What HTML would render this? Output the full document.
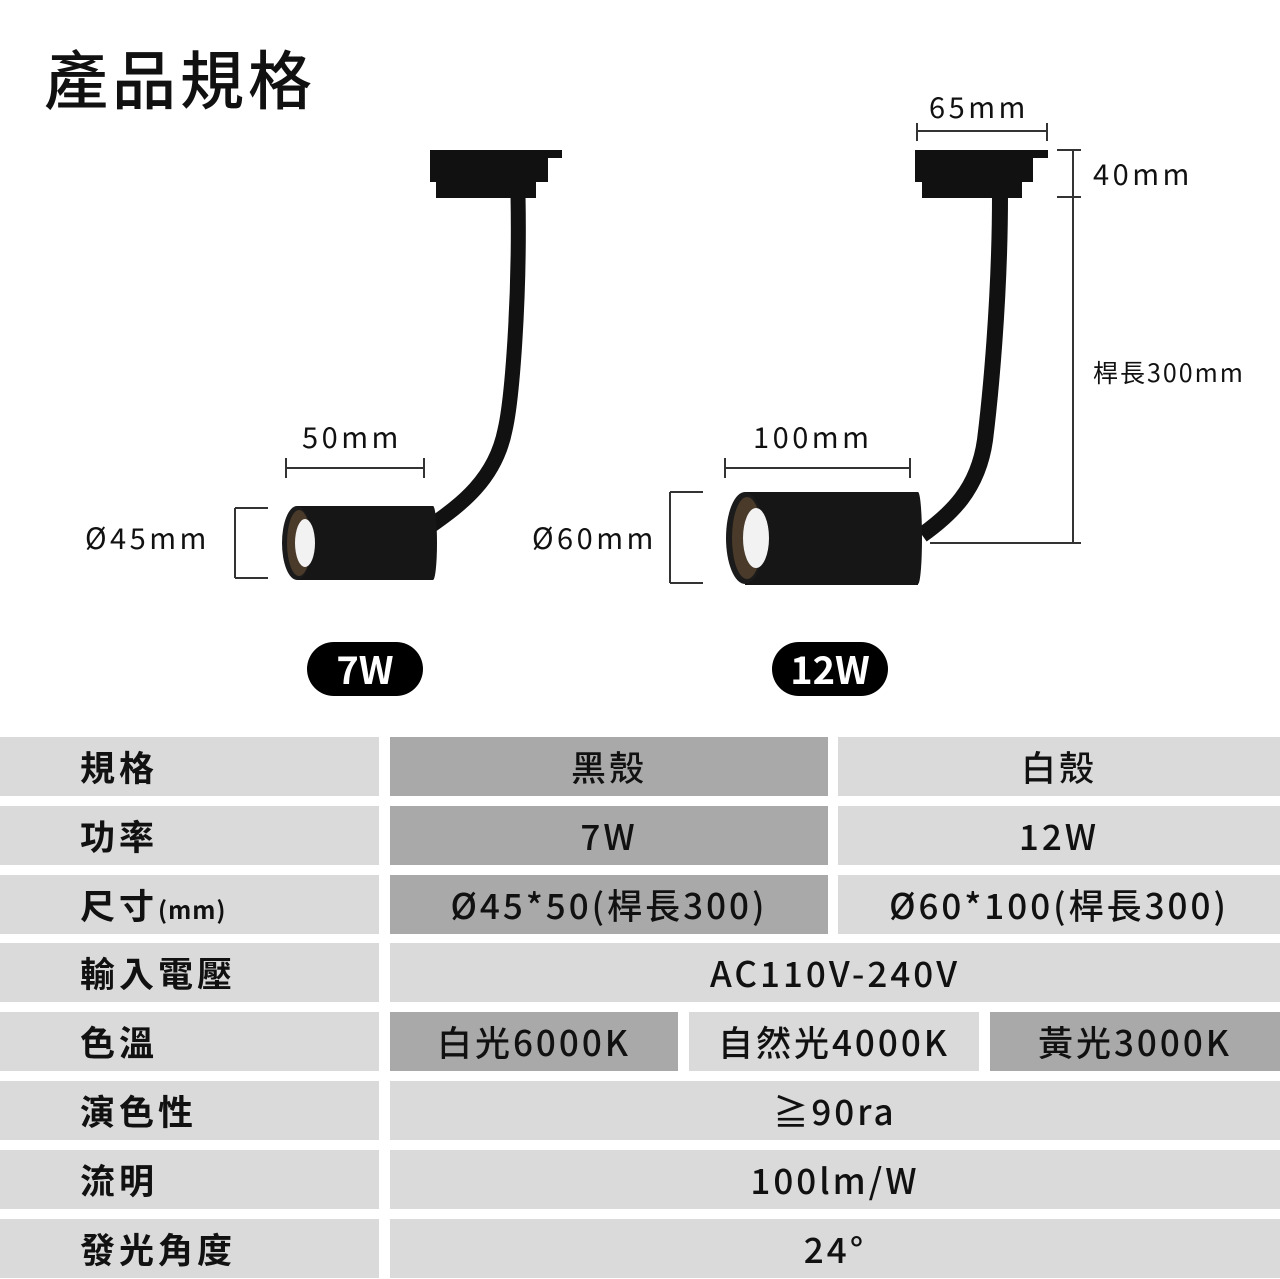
<!DOCTYPE html>
<html><head><meta charset="utf-8"><style>
body{margin:0;width:1280px;height:1279px;background:#fff;position:relative;overflow:hidden;font-family:"Noto Sans CJK TC","Liberation Sans",sans-serif;color:#111}
.c{position:absolute;display:flex;align-items:center;justify-content:center;font-size:35px;font-weight:500;letter-spacing:3px;height:59px}
.l{justify-content:flex-start;padding-left:80px;font-weight:700;box-sizing:border-box;letter-spacing:4px}
.g{background:#dadada}.d{background:#a9a9a9}
</style></head><body>
<svg width="1280" height="720" style="position:absolute;left:0;top:0" font-family="Noto Sans CJK TC, Liberation Sans, sans-serif">
<text x="44" y="104" font-size="64" font-weight="500" fill="#111" letter-spacing="4">產品規格</text>
<g stroke="#333" stroke-width="2" fill="none">
<path d="M286 468H424M286 458V478M424 458V478"/>
<path d="M725 468H910M725 458V478M910 458V478"/>
<path d="M235 508V578M235 508H268M235 578H268"/>
<path d="M670 492V583M670 492H703M670 583H703"/>
<path d="M917 131H1047M917 123V141M1047 123V141"/>
<path d="M1073 150V543M1057 150H1081M1057 197H1081M930 543H1081"/>
</g>
<g font-size="29" fill="#111" letter-spacing="3.5">
<text x="302" y="448">50mm</text>
<text x="753" y="448">100mm</text>
<text x="85" y="549">Ø45mm</text>
<text x="532" y="549">Ø60mm</text>
<text x="929" y="118">65mm</text>
<text x="1093" y="185">40mm</text>
<text x="1093" y="382" font-size="25" letter-spacing="2">桿長300mm</text>
</g>
<!-- 7W lamp -->
<path d="M518 195 C520 300 512 400 505 430 C495 480 460 505 432 525" stroke="#111" stroke-width="15" fill="none"/>
<rect x="430" y="150" width="118" height="32" fill="#111"/><rect x="540" y="150" width="22" height="8" fill="#111"/>
<rect x="436" y="180" width="100" height="18" fill="#111"/>
<rect x="297" y="506" width="136" height="74" fill="#161616"/>
<ellipse cx="433" cy="543" rx="4" ry="37" fill="#161616"/>
<ellipse cx="297" cy="543" rx="15" ry="37" fill="#1b1b1b"/>
<ellipse cx="299" cy="543" rx="12" ry="33" fill="#4a3a2a"/>
<ellipse cx="305" cy="543" rx="10" ry="24" fill="#f2f2f2"/>
<!-- 12W lamp -->
<path d="M1000 195 C1000 300 990 400 985 440 C978 490 950 515 922 535" stroke="#111" stroke-width="16" fill="none"/>
<rect x="915" y="150" width="118" height="32" fill="#111"/><rect x="1025" y="150" width="23" height="8" fill="#111"/>
<rect x="922" y="180" width="100" height="18" fill="#111"/>
<rect x="745" y="492" width="173" height="93" fill="#161616"/>
<ellipse cx="918" cy="538" rx="4" ry="46" fill="#161616"/>
<ellipse cx="745" cy="538" rx="19" ry="46" fill="#1b1b1b"/>
<ellipse cx="747" cy="538" rx="15" ry="41" fill="#4a3a2a"/>
<ellipse cx="756" cy="538" rx="13" ry="30" fill="#f2f2f2"/>
<!-- badges -->
<rect x="307" y="642" width="116" height="54" rx="27" fill="#000"/>
<text x="365" y="684" font-size="38" font-weight="700" fill="#fff" text-anchor="middle">7W</text>
<rect x="772" y="642" width="116" height="54" rx="27" fill="#000"/>
<text x="830" y="684" font-size="38" font-weight="700" fill="#fff" text-anchor="middle">12W</text>
</svg>

<div class="c l g" style="left:0;top:737px;width:379px">規格</div>
<div class="c d" style="left:390px;top:737px;width:438px">黑殼</div>
<div class="c g" style="left:838px;top:737px;width:442px">白殼</div>

<div class="c l g" style="left:0;top:806px;width:379px">功率</div>
<div class="c d" style="left:390px;top:806px;width:438px">7W</div>
<div class="c g" style="left:838px;top:806px;width:442px">12W</div>

<div class="c l g" style="left:0;top:875px;width:379px">尺寸<span style="font-size:24px;margin-top:8px;letter-spacing:1px">(mm)</span></div>
<div class="c d" style="left:390px;top:875px;width:438px">Ø45*50(桿長300)</div>
<div class="c g" style="left:838px;top:875px;width:442px">Ø60*100(桿長300)</div>

<div class="c l g" style="left:0;top:943px;width:379px">輸入電壓</div>
<div class="c g" style="left:390px;top:943px;width:890px">AC110V-240V</div>

<div class="c l g" style="left:0;top:1012px;width:379px">色溫</div>
<div class="c d" style="left:390px;top:1012px;width:288px">白光6000K</div>
<div class="c g" style="left:689px;top:1012px;width:290px">自然光4000K</div>
<div class="c d" style="left:990px;top:1012px;width:290px">黃光3000K</div>

<div class="c l g" style="left:0;top:1081px;width:379px">演色性</div>
<div class="c g" style="left:390px;top:1081px;width:890px">≧90ra</div>

<div class="c l g" style="left:0;top:1150px;width:379px">流明</div>
<div class="c g" style="left:390px;top:1150px;width:890px">100lm/W</div>

<div class="c l g" style="left:0;top:1219px;width:379px">發光角度</div>
<div class="c g" style="left:390px;top:1219px;width:890px">24°</div>
</body></html>
